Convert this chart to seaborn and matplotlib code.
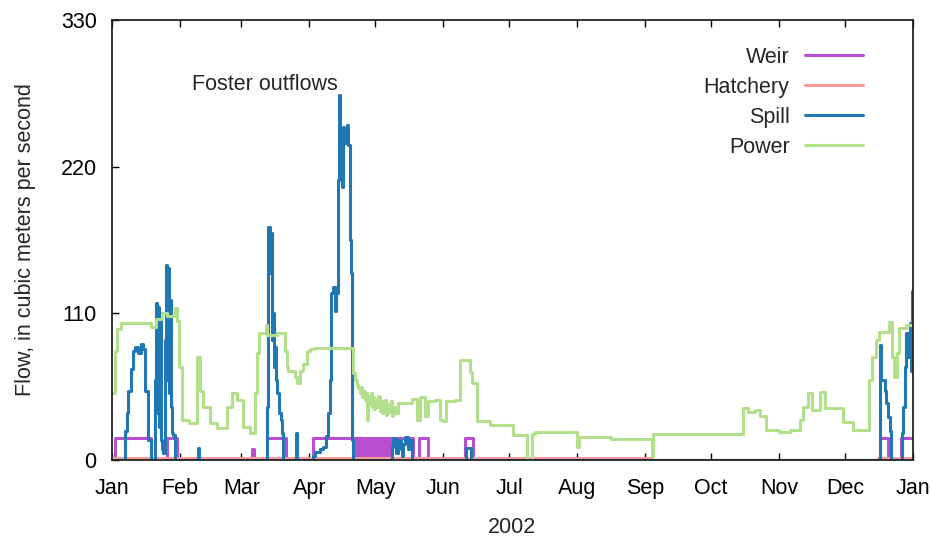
import numpy as np
import pandas as pd
import matplotlib
matplotlib.use("Agg")
import matplotlib.pyplot as plt
import seaborn as sns

# Foster Dam outflow components, 2002 (m3/s).
# Each series is a list of change points: day of year (0 = Jan 1) and the
# flow that holds from that day until the next change point.
weir_days = [0, 1.2, 18, 25, 29.5, 39, 39.7, 64, 64.7, 70.5, 79.5, 91.5,
             110.0, 110.5, 111.0, 111.5, 112.0, 112.5, 113.0, 113.5, 114.0,
             114.5, 115.0, 115.5, 116.0, 116.5, 117.0, 117.5, 118.0, 118.5,
             119.0, 119.5, 120.0, 120.5, 121.0, 121.5, 122.0, 122.5, 123.0,
             123.5, 124.0, 124.5, 125.0, 125.5, 126.0, 126.5, 126.8,
             137, 140, 144, 161, 164.5, 350, 353.5, 359.5, 365]
weir_vals = [0, 16.5, 0, 16.5, 0, 8, 0, 8, 0, 16.5, 0, 16.5,
             0, 16.5, 0, 16.5, 0, 16.5, 0, 16.5, 0,
             16.5, 0, 16.5, 0, 16.5, 0, 16.5, 0, 16.5,
             0, 16.5, 0, 16.5, 0, 16.5, 0, 16.5, 0,
             16.5, 0, 16.5, 0, 16.5, 0, 16.5, 16.5,
             0, 16.5, 0, 16.5, 0, 16.5, 0, 16.5, 16.5]

hatchery_days = [0, 246, 349, 365]
hatchery_vals = [1.3, 0, 1.3, 1.3]

spill_days = [0, 5.9, 6.7, 7.4, 8.5, 9.7, 10.5, 12, 13, 14, 15, 16.5, 18,
              19.8, 20.0, 20.5, 21.0, 21.5, 22.0, 22.5, 22.8, 23.4, 24.1,
              24.5, 25.0, 25.5, 26.0, 26.4, 26.8, 27.3, 28.0, 28.7,
              39.2, 39.8,
              70.5, 70.9, 71.3, 71.8, 72.3, 72.7, 73.0, 73.4, 73.8, 74.2,
              74.7, 75.3, 76.0, 77.0, 77.6, 78.0, 84, 84.5,
              91.5, 92.5, 95, 96, 97.5, 98.6, 99.3, 100, 100.8, 101.6, 102.3,
              103.1, 103.6, 104.1, 104.6, 105.1, 105.8, 106.9, 107.6, 108.4,
              108.8, 109.2, 109.6, 110,
              127.4, 128, 129.2, 130.5, 131.5, 132, 132.8, 133.5, 135, 135.7,
              136.5, 161.5, 163.5,
              349.9, 350.6, 351.4, 352.1, 352.9, 353.7, 354.4, 355.2,
              359.8, 360.5, 361.3, 362, 362.8, 363.6, 364, 364.6, 365]
spill_vals = [0, 22, 35, 52, 68, 82, 85, 80, 87, 83, 52, 15, 0,
              60, 118, 35, 115, 25, 110, 15, 8, 5, 90,
              146, 60, 144, 50, 120, 40, 20, 19, 0,
              9, 0,
              40, 150, 175, 140, 170, 120, 90, 110, 70, 85,
              60, 50, 35, 30, 20, 0, 20, 0,
              3, 6, 8, 10, 18, 35, 60, 125, 130, 112, 125,
              210, 274, 240, 205, 250, 238, 251, 236, 165,
              140, 60, 15, 0,
              10, 16.5, 5, 15, 8, 3, 12, 17, 8, 15,
              0, 9, 0,
              86, 60, 60, 52, 43, 32, 22, 0,
              20, 40, 70, 95, 77, 103, 67, 127, 127]

power_days = [0, 1.5, 2.5, 4, 18, 20, 23, 25, 28.6, 29.5, 30.5, 31.7, 35,
              38.6, 40.1, 41.6, 44.6, 47.7, 52.2, 54.5, 56.8, 59.8, 62.9,
              65.1, 66.2, 67.2, 70.3, 70.8, 75, 78.8, 79.6, 80.3, 83.4, 84.5,
              85.6, 87, 88.7, 90.2, 92,
              110, 110.7, 111.5, 112.2, 113, 113.5, 114, 114.5, 115.3, 116,
              116.3, 116.8, 117.5, 118, 118.5, 119, 119.5, 120, 120.5, 121.3,
              122, 122.5, 123, 123.5, 124, 124.5, 125, 125.5, 126, 127,
              127.5, 128, 129, 130.4, 136.5, 138.8, 140.3, 142.6, 144.1,
              147.2, 149.4, 150.9, 152.4, 156.2, 158.5, 163.1, 164, 164.6,
              166.2, 172.2, 182.9, 189, 191.2, 192.7,
              211.7, 213, 227.6, 245.9, 246.6, 287.6, 290, 293, 295.5, 298,
              304, 309, 313.4, 314.9, 317, 318.8, 322.5, 324.8, 333, 337.7,
              345, 346.5, 348, 349.5, 354, 355.6, 356.3, 357.9, 358.6, 361.7,
              365]
power_vals = [50, 82, 98, 102.5, 100, 106, 110, 108, 114, 104, 70, 30, 28,
              77, 52, 40, 28, 24, 40, 50, 45, 25, 20,
              50, 80, 95, 101, 94, 95, 82, 70, 67, 62, 58,
              67, 72, 82, 83, 84,
              65, 60, 56, 54, 50, 55, 47, 52, 45, 50,
              30, 48, 42, 50, 40, 47, 38, 46, 40, 48,
              37, 44, 35, 43, 38, 45, 34, 42, 36, 44,
              33, 40, 35, 42.5, 46, 30, 47, 33, 44,
              45, 30, 29, 44, 45, 75, 66, 58, 58,
              29, 26, 19, 0, 19.5, 21,
              10, 17, 15.5, 2, 19.5, 39, 36, 37.5, 33, 22.5,
              21, 22.5, 30, 40, 50, 37.5, 51, 39, 28.7, 22.5,
              60, 77, 90, 96, 103.5, 77, 62.5, 80, 99, 101,
              101]

series_names = ["Weir", "Hatchery", "Spill", "Power"]
series_colors = ["#b84fd0", "#fb9a99", "#1f78b4", "#b2df8a"]
month_labels = ["Jan", "Feb", "Mar", "Apr", "May", "Jun", "Jul", "Aug",
                "Sep", "Oct", "Nov", "Dec", "Jan"]
y_ticks = [0, 110, 220, 330]

start = pd.Timestamp("2002-01-01")
frames = []
for name, d, v in zip(series_names,
                      [weir_days, hatchery_days, spill_days, power_days],
                      [weir_vals, hatchery_vals, spill_vals, power_vals]):
    frames.append(pd.DataFrame({
        "date": start + pd.to_timedelta(np.asarray(d, dtype=float), unit="D"),
        "flow": v,
        "series": name,
    }))
df = pd.concat(frames, ignore_index=True)

sns.set_theme(style="ticks")
plt.rcParams["font.family"] = ["Liberation Sans", "DejaVu Sans"]
FS = 15.5

fig = plt.figure(figsize=(9.3, 5.43), dpi=100)
ax = fig.add_axes([0.1204, 0.1529, 0.8613, 0.8103])

sns.lineplot(data=df, x="date", y="flow", hue="series",
             hue_order=series_names, palette=series_colors,
             estimator=None, sort=False, drawstyle="steps-post",
             linewidth=2.2, ax=ax, legend=False)

ax.set_xlim(start, pd.Timestamp("2003-01-01"))
ax.set_ylim(0, 330)
month_ticks = pd.date_range("2002-01-01", "2003-01-01", freq="MS")
ax.set_xticks(month_ticks)
ax.set_xticklabels(month_labels)
ax.set_yticks(y_ticks)
ax.set_yticklabels([str(t) for t in y_ticks])

ax.tick_params(direction="in", length=5, width=1.0, top=True, right=False,
               labelsize=FS, colors="black")
ax.tick_params(axis="x", pad=13)
ax.tick_params(axis="y", pad=11)
for s in ax.spines.values():
    s.set_linewidth(1.3)
    s.set_color("#222222")

ax.set_xlabel("2002", fontsize=FS, labelpad=13)
ax.set_ylabel("Flow, in cubic meters per second", fontsize=FS, labelpad=18)

ax.text(0.0999, 0.8545, "Foster outflows", transform=ax.transAxes,
        fontsize=FS, ha="left", va="center")

handles = [plt.Line2D([], [], color=c, lw=2.2) for c in series_colors]
ax.legend(handles, series_names, loc="upper right",
          bbox_to_anchor=(0.948, 0.959), frameon=False, markerfirst=False,
          fontsize=FS, handlelength=2.7, handletextpad=0.7,
          labelspacing=0.42, borderpad=0.4, borderaxespad=0)

fig.savefig("out.png", dpi=100)
